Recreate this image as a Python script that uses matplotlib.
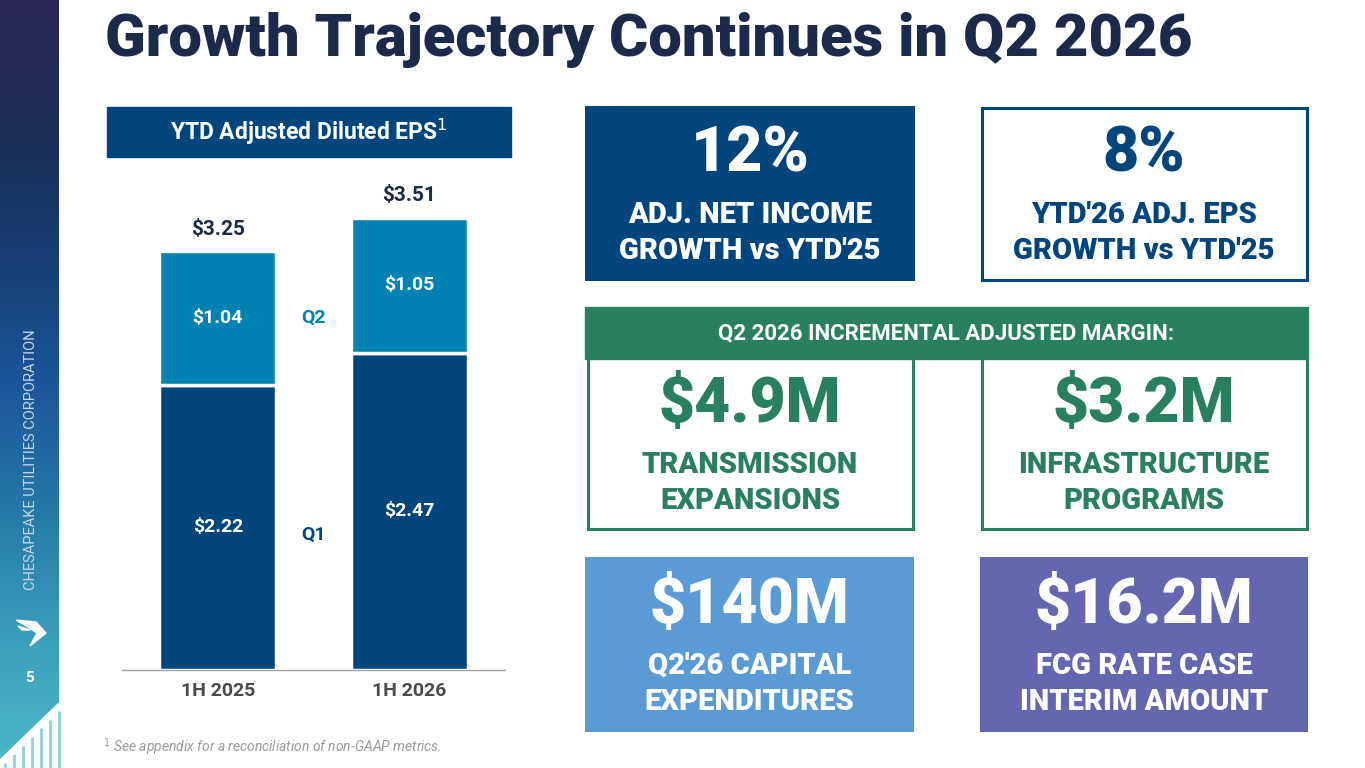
import matplotlib
matplotlib.use("Agg")
import matplotlib.pyplot as plt
import numpy as np
from matplotlib.colors import LinearSegmentedColormap
from matplotlib.patches import Rectangle, Polygon

# data
periods = ["1H 2025", "1H 2026"]
q1_eps = [2.22, 2.47]
q2_eps = [1.04, 1.05]
ytd_eps = [3.25, 3.51]

kpi_values = ["12%", "8%", "$4.9M", "$3.2M", "$140M", "$16.2M"]
kpi_labels = [
    "ADJ. NET INCOME\nGROWTH vs YTD'25",
    "YTD'26 ADJ. EPS\nGROWTH vs YTD'25",
    "TRANSMISSION\nEXPANSIONS",
    "INFRASTRUCTURE\nPROGRAMS",
    "Q2'26 CAPITAL\nEXPENDITURES",
    "FCG RATE CASE\nINTERIM AMOUNT",
]

NAVY = "#1b2a4a"
DARK_BLUE = "#00457c"
MID_BLUE = "#0083b3"
GREEN = "#28805f"
LIGHT_BLUE = "#5b9bd5"
PURPLE = "#6367b0"

plt.rcParams["font.family"] = ["Roboto", "DejaVu Sans"]

W, H = 1365, 768
fig = plt.figure(figsize=(W / 100, H / 100), dpi=100)

# background layer in pixel coordinates
bg = fig.add_axes([0, 0, 1, 1])
bg.set_xlim(0, W)
bg.set_ylim(H, 0)
bg.axis("off")

# left side band with gradient
side_cmap = LinearSegmentedColormap.from_list(
    "side", ["#2a2658", "#1b2d55", "#173e74", "#1b559a", "#2579a8", "#3a9fbb", "#4cb8c8"])
grad = np.linspace(0, 1, 256).reshape(-1, 1)
bg.imshow(grad, cmap=side_cmap, extent=[0, 59, H, 0], aspect="auto", zorder=1)
bg.add_patch(Polygon([(0, 760), (59, 703), (61, 703), (61, H), (0, H)],
                     closed=True, color="white", zorder=2))
for sx in np.arange(5, 60, 9):
    top = 760 - (sx / 59) * 57 + 8
    bg.plot([sx, sx], [top, H], color="#8fd3dc", lw=2, zorder=3, solid_capstyle="butt")

bg.text(31, 460, "CHESAPEAKE UTILITIES CORPORATION", rotation=90, ha="center", va="center",
        color="#c9d8e8", fontsize=10.5, zorder=4)
bg.add_patch(Polygon([(16, 620), (36, 622), (46, 633), (30, 646), (37, 633), (28, 627)],
                     closed=True, color="white", zorder=4))
bg.add_patch(Polygon([(18, 626), (30, 630), (22, 630)], closed=True, color="white", zorder=4))
bg.text(30, 678, "5", ha="center", va="center", color="white", fontsize=11,
        fontweight="bold", zorder=4)

# title
bg.text(105, 40, "Growth Trajectory Continues in Q2 2026", ha="left", va="center",
        color=NAVY, fontsize=43, fontweight="black", zorder=4)

# chart header
bg.add_patch(Rectangle((107, 107), 404, 50, color=DARK_BLUE, zorder=2))
bg.text(309, 132, "YTD Adjusted Diluted EPS$^{1}$", ha="center", va="center",
        color="white", fontsize=16.5, fontweight="bold", zorder=4)

bg.text(103, 747, "$^{1}$ See appendix for a reconciliation of non-GAAP metrics.",
        ha="left", va="center", color="#9a9a9a", fontsize=10, style="italic", zorder=4)


def kpi_box(x0, y0, w, h, value, label, fill=None, edge=None, color="white"):
    if fill is not None:
        bg.add_patch(Rectangle((x0, y0), w, h, facecolor=fill, edgecolor="none", zorder=2))
    if edge is not None:
        bg.add_patch(Rectangle((x0 + 1.5, y0 + 1.5), w - 3, h - 3, facecolor="white",
                               edgecolor=edge, lw=2.2, zorder=2))
    cx = x0 + w / 2
    bg.text(cx, y0 + 49, value, ha="center", va="center", color=color, fontsize=45,
            fontweight="black", zorder=4)
    bg.text(cx, y0 + 127, label, ha="center", va="center", color=color, fontsize=21,
            fontweight="black", linespacing=1.4, zorder=4)


kpi_box(585, 106, 330, 175, kpi_values[0], kpi_labels[0], fill=DARK_BLUE)
kpi_box(980, 106, 328, 175, kpi_values[1], kpi_labels[1], edge=DARK_BLUE, color=DARK_BLUE)

kpi_box(586, 356, 328, 174, kpi_values[2], kpi_labels[2], edge=GREEN, color=GREEN)
kpi_box(980, 356, 328, 174, kpi_values[3], kpi_labels[3], edge=GREEN, color=GREEN)
# section header drawn over the box tops
bg.add_patch(Rectangle((585, 307), 723, 52, color=GREEN, zorder=3))
bg.text(946, 333, "Q2 2026 INCREMENTAL ADJUSTED MARGIN:", ha="center", va="center",
        color="white", fontsize=16, fontweight="bold", zorder=4)

kpi_box(585, 557, 329, 175, kpi_values[4], kpi_labels[4], fill=LIGHT_BLUE)
kpi_box(980, 557, 328, 175, kpi_values[5], kpi_labels[5], fill=PURPLE)

# stacked bar chart
ax = fig.add_axes([122 / W, (H - 670) / H, 383 / W, 520 / H])
ax.patch.set_alpha(0)
x = np.arange(len(periods))
width = 0.61
ax.bar(x, q1_eps, width, color=DARK_BLUE, edgecolor="white", linewidth=2.5, zorder=2)
ax.bar(x, q2_eps, width, bottom=q1_eps, color=MID_BLUE, edgecolor="white",
       linewidth=2.5, zorder=2)
ax.set_xlim(-0.5, 1.5)
ax.set_ylim(0, 4.05)

for i in range(len(periods)):
    ax.text(x[i], q1_eps[i] / 2, f"${q1_eps[i]:.2f}", ha="center", va="center",
            color="white", fontsize=14, fontweight="bold")
    ax.text(x[i], q1_eps[i] + q2_eps[i] / 2, f"${q2_eps[i]:.2f}", ha="center",
            va="center", color="white", fontsize=14, fontweight="bold")
    ax.annotate(f"${ytd_eps[i]:.2f}", (x[i], q1_eps[i] + q2_eps[i]), xytext=(0, 16),
                textcoords="offset points", ha="center", va="center", color=NAVY,
                fontsize=15, fontweight="bold")

ax.text(0.5, 1.05, "Q1", ha="center", va="center", color=DARK_BLUE, fontsize=14,
        fontweight="bold")
ax.text(0.5, 2.74, "Q2", ha="center", va="center", color=MID_BLUE, fontsize=14,
        fontweight="bold")

ax.set_xticks(x)
ax.set_xticklabels(periods, fontsize=14, fontweight="bold", color="#4a4a4a")
ax.tick_params(axis="x", length=0, pad=9)
ax.set_yticks([])
for s in ["top", "right", "left"]:
    ax.spines[s].set_visible(False)
ax.spines["bottom"].set_color("#a0a0a0")
ax.spines["bottom"].set_linewidth(1)
ax.spines["bottom"].set_zorder(3)

fig.savefig("out.png", dpi=100)
